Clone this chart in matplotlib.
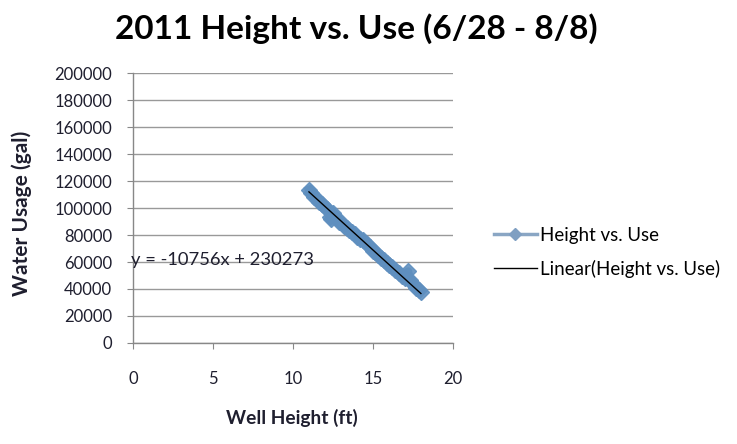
import matplotlib
matplotlib.use("Agg")
import matplotlib.pyplot as plt
from matplotlib.lines import Line2D
import numpy as np

# Well height (ft) vs. water usage (gal), 2011 season 6/28 - 8/8
heights = [11.0, 11.1, 11.3, 11.5, 11.6, 11.8, 12.0, 12.1, 12.3, 12.4, 12.5, 12.7,
           12.9, 13.0, 13.2, 13.4, 13.5, 13.7, 13.9, 14.0, 14.2, 14.4, 14.6, 14.8,
           15.0, 15.1, 15.3, 15.5, 15.7, 15.9, 16.0, 16.2, 16.4, 16.6, 16.8, 17.0,
           17.2, 17.3, 17.5, 17.7, 17.9, 18.0]
usage = [113500, 111000, 108500, 107000, 104500, 103000, 100500, 99000, 93000, 91500,
         96000, 92500, 90000, 89500, 87000, 85500, 84000, 82000, 80500, 78500,
         77000, 76000, 73000, 71000, 68500, 67500, 65000, 63000, 61500, 59000,
         57500, 56000, 54000, 51500, 50000, 48000, 53000, 46500, 43500, 41000,
         39000, 38000]

# Linear trend coefficients
slope = -10756
intercept = 230273

x_ticks = [0, 5, 10, 15, 20]
y_ticks = list(range(0, 200001, 20000))

title = "2011 Height vs. Use (6/28 - 8/8)"
series_name = "Height vs. Use"
trend_name = "Linear(Height vs. Use)"

plt.rcParams['font.family'] = ['Lato', 'DejaVu Sans']
text_color = "#1f1f2f"

fig = plt.figure(figsize=(7.37, 4.44), dpi=100)
ax = fig.add_axes([0.1805, 0.2275, 0.434, 0.608])

blue = "#5f8fbf"
ax.plot(heights, usage, color=blue, lw=6, marker="D", ms=8,
        mec=blue, mfc=blue, zorder=3, alpha=0.9)

tx = np.array([min(heights), max(heights)])
ax.plot(tx, slope * tx + intercept, color="black", lw=1.0, zorder=4)

ax.text(-0.15, 61500, f"y = {slope}x + {intercept}", fontsize=13.2,
        color=text_color, ha="left", va="center", zorder=5)

ax.set_xlim(0, 20)
ax.set_ylim(0, 200000)
ax.set_xticks(x_ticks)
ax.set_yticks(y_ticks)
ax.set_xticklabels([str(t) for t in x_ticks], fontsize=12, color=text_color)
ax.set_yticklabels([str(t) for t in y_ticks], fontsize=12, color=text_color)
ax.tick_params(axis="x", direction="out", length=4, color="#888888", pad=16)
ax.tick_params(axis="y", direction="out", length=4, color="#888888", pad=11)

ax.grid(axis="y", color="#999999", lw=1.0)
ax.set_axisbelow(True)
for s in ["top", "right"]:
    ax.spines[s].set_visible(False)
for s in ["left", "bottom"]:
    ax.spines[s].set_color("#888888")
    ax.spines[s].set_linewidth(1.0)

ax.set_xlabel("Well Height (ft)", fontsize=13.8, fontweight="bold",
              color=text_color)
ax.set_ylabel("Water Usage (gal)", fontsize=15, fontweight="bold",
              color=text_color)
ax.xaxis.set_label_coords(0.498, -0.245)
ax.yaxis.set_label_coords(-0.316, 0.48)

fig.text(0.483, 0.935, title, ha="center", va="center", fontsize=24,
         fontweight="bold", color="black")

handles = [
    Line2D([], [], color="#8aa6c4", lw=2.5, marker="D", ms=6,
           mfc="#7f9fc2", mec="#7f9fc2"),
    Line2D([], [], color="black", lw=1.0),
]
ax.legend(handles, [series_name, trend_name], loc="center left",
          bbox_to_anchor=(1.075, 0.335), frameon=False,
          fontsize=13.5, handlelength=2.3, handletextpad=0.15,
          labelspacing=0.85)

fig.savefig("out.png", dpi=100)
